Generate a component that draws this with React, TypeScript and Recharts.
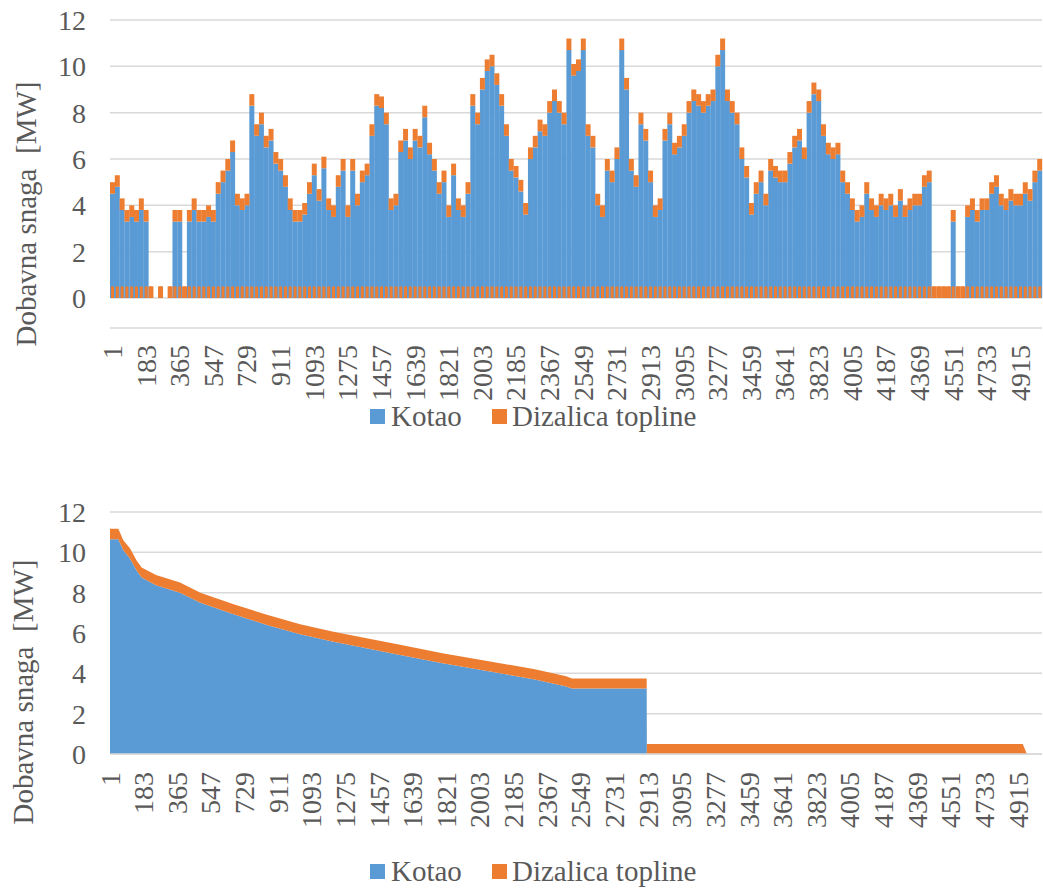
import React from 'react';
import { BarChart, Bar, XAxis, YAxis, CartesianGrid, AreaChart, Area } from 'recharts';

const SERIES_NAMES = ['Kotao', 'Dizalica topline'];
const COLORS = ['#5B9BD5', '#ED7D31'];
const Y_TITLE = 'Dobavna snaga  [MW]';
const Y_TICKS = [0, 2, 4, 6, 8, 10, 12];
const X_TICK_LABELS = [1, 183, 365, 547, 729, 911, 1093, 1275, 1457, 1639, 1821, 2003, 2185, 2367, 2549, 2731, 2913, 3095, 3277, 3459, 3641, 3823, 4005, 4187, 4369, 4551, 4733, 4915];

// top chart: one bar per 26-hour block (7 blocks between labelled ticks)
const BLOCK_HOURS = 26;
const KOTAO_BLOCKS = [
  4.5, 4.8, 3.8, 3.3, 3.5, 3.3, 3.8,
  3.3, 0, 0, 0, 0, 0, 3.3,
  3.3, 0, 3.3, 3.8, 3.3, 3.3, 3.5,
  3.3, 4.5, 5.0, 5.5, 6.3, 4.0, 3.8,
  4.0, 8.3, 7.0, 7.5, 6.5, 6.8, 5.8,
  5.5, 4.8, 3.8, 3.3, 3.3, 3.6, 4.5,
  5.3, 4.2, 5.6, 3.8, 3.5, 4.8, 5.5,
  3.5, 5.5, 4.0, 5.0, 5.3, 7.0, 8.3,
  8.2, 7.5, 3.8, 4.0, 6.3, 6.8, 6.0,
  6.8, 6.5, 7.8, 6.2, 5.5, 4.5, 5.0,
  3.5, 5.3, 3.8, 3.5, 4.5, 8.3, 7.5,
  9.0, 9.8, 10.0, 9.2, 8.3, 7.0, 5.5,
  5.2, 4.6, 3.6, 6.0, 6.5, 7.2, 7.0,
  8.0, 8.5, 8.0, 7.5, 10.7, 9.6, 9.8,
  10.7, 7.0, 6.5, 4.0, 3.5, 5.5, 5.0,
  6.0, 10.7, 9.0, 5.5, 4.8, 7.5, 6.8,
  5.0, 3.5, 3.8, 6.8, 7.5, 6.2, 6.5,
  7.0, 8.0, 8.5, 8.3, 8.0, 8.3, 8.5,
  10.0, 10.7, 8.5, 8.0, 7.5, 6.0, 5.2,
  3.6, 4.5, 5.0, 4.0, 5.5, 5.2, 5.0,
  5.0, 5.8, 6.5, 6.8, 6.0, 8.0, 8.8,
  8.5, 7.0, 6.2, 6.0, 6.2, 5.0, 4.5,
  3.8, 3.3, 3.5, 4.5, 3.8, 3.5, 4.0,
  3.8, 4.0, 3.5, 4.2, 3.5, 3.8, 4.0,
  4.0, 4.8, 5.0, 0, 0, 0, 0,
  3.3, 0, 0, 3.5, 3.8, 3.3, 3.8,
  3.8, 4.5, 4.8, 4.0, 3.8, 4.2, 4.0,
  4.0, 4.5, 4.2, 5.0, 5.5,
];
const DIZALICA_BLOCKS = [
  0.5, 0.5, 0.5, 0.5, 0.5, 0.5, 0.5,
  0.5, 0.5, 0, 0.5, 0, 0.5, 0.5,
  0.5, 0.5, 0.5, 0.5, 0.5, 0.5, 0.5,
  0.5, 0.5, 0.5, 0.5, 0.5, 0.5, 0.5,
  0.5, 0.5, 0.5, 0.5, 0.5, 0.5, 0.5,
  0.5, 0.5, 0.5, 0.5, 0.5, 0.5, 0.5,
  0.5, 0.5, 0.5, 0.5, 0.5, 0.5, 0.5,
  0.5, 0.5, 0.5, 0.5, 0.5, 0.5, 0.5,
  0.5, 0.5, 0.5, 0.5, 0.5, 0.5, 0.5,
  0.5, 0.5, 0.5, 0.5, 0.5, 0.5, 0.5,
  0.5, 0.5, 0.5, 0.5, 0.5, 0.5, 0.5,
  0.5, 0.5, 0.5, 0.5, 0.5, 0.5, 0.5,
  0.5, 0.5, 0.5, 0.5, 0.5, 0.5, 0.5,
  0.5, 0.5, 0.5, 0.5, 0.5, 0.5, 0.5,
  0.5, 0.5, 0.5, 0.5, 0.5, 0.5, 0.5,
  0.5, 0.5, 0.5, 0.5, 0.5, 0.5, 0.5,
  0.5, 0.5, 0.5, 0.5, 0.5, 0.5, 0.5,
  0.5, 0.5, 0.5, 0.5, 0.5, 0.5, 0.5,
  0.5, 0.5, 0.5, 0.5, 0.5, 0.5, 0.5,
  0.5, 0.5, 0.5, 0.5, 0.5, 0.5, 0.5,
  0.5, 0.5, 0.5, 0.5, 0.5, 0.5, 0.5,
  0.5, 0.5, 0.5, 0.5, 0.5, 0.5, 0.5,
  0.5, 0.5, 0.5, 0.5, 0.5, 0.5, 0.5,
  0.5, 0.5, 0.5, 0.5, 0.5, 0.5, 0.5,
  0.5, 0.5, 0.5, 0.5, 0.5, 0.5, 0.5,
  0.5, 0.5, 0.5, 0.5, 0.5, 0.5, 0.5,
  0.5, 0.5, 0.5, 0.5, 0.5, 0.5, 0.5,
  0.5, 0.5, 0.5, 0.5, 0.5,
];

// bottom chart: sorted (duration) curve
const DURATION_HOURS = [1, 46, 73, 109, 145, 172, 250, 380, 490, 670, 850, 1030, 1210, 1355, 1550, 1800, 2050, 2300, 2470, 2500, 2905, 2906, 4940, 4962];
const DURATION_KOTAO = [10.65, 10.65, 10.1, 9.7, 9.1, 8.75, 8.37, 8.0, 7.5, 6.93, 6.4, 5.94, 5.56, 5.3, 4.95, 4.5, 4.1, 3.7, 3.35, 3.25, 3.25, 0, 0, 0];
const DURATION_DIZALICA = [0.52, 0.52, 0.5, 0.5, 0.5, 0.5, 0.5, 0.5, 0.5, 0.5, 0.5, 0.5, 0.5, 0.5, 0.5, 0.5, 0.5, 0.5, 0.5, 0.5, 0.5, 0.5, 0.5, 0];

const blockData = KOTAO_BLOCKS.map((k, i) => ({
  hour: 1 + i * BLOCK_HOURS,
  kotao: k,
  dizalica: DIZALICA_BLOCKS[i],
}));
const durationData = DURATION_HOURS.map((h, i) => ({
  hour: h,
  kotao: DURATION_KOTAO[i],
  dizalica: DURATION_DIZALICA[i],
}));

const FONT = "'Liberation Serif', 'Times New Roman', Times, 'DejaVu Serif', serif";
const TEXT = '#595959';
const GRID = '#d9d9d9';

const XTick = (props: any) => {
  const { x, y, payload, gap } = props;
  return (
    <text
      transform={`translate(${x},${y + gap}) rotate(-90)`}
      textAnchor="end"
      dominantBaseline="central"
      style={{ fontSize: 28, fontFamily: FONT, fill: TEXT }}
    >
      {payload.value}
    </text>
  );
};

const yTickStyle = { fontSize: 28, fontFamily: FONT, fill: TEXT, style: { fontFamily: FONT } };

const LegendRow = ({ y }: { y: number }) => (
  <g>
    <rect x={370} y={y - 8} width={15} height={15} fill={COLORS[0]} />
    <text x={391} y={y + 9} style={{ fontSize: 29, fontFamily: FONT, fill: TEXT }}>{SERIES_NAMES[0]}</text>
    <rect x={492} y={y - 8} width={15} height={15} fill={COLORS[1]} />
    <text x={512} y={y + 9} style={{ fontSize: 29, fontFamily: FONT, fill: TEXT }}>{SERIES_NAMES[1]}</text>
  </g>
);

const YTitle = ({ cx, cy }: { cx: number; cy: number }) => (
  <text
    x={cx}
    y={cy}
    transform={`rotate(-90 ${cx} ${cy})`}
    textAnchor="middle"
    dominantBaseline="central"
    style={{ whiteSpace: 'pre', fontSize: 29, fontFamily: FONT, fill: TEXT }}
  >
    {Y_TITLE}
  </text>
);

export default function App() {
  return (
    <div style={{ position: 'absolute', left: 0, top: 0, width: 1043, height: 888, background: '#fff', overflow: 'hidden', fontFamily: FONT }}>
      <div style={{ position: 'absolute', left: 0, top: 0 }}>
        <BarChart
          width={1043}
          height={440}
          data={blockData}
          margin={{ top: 20, right: 1, bottom: 0, left: 0 }}
          barCategoryGap={0}
          barGap={0}
        >
          <CartesianGrid vertical={false} stroke={GRID} strokeWidth={1.5} />
          <XAxis
            xAxisId="main"
            dataKey="hour"
            ticks={X_TICK_LABELS}
            interval={0}
            height={142}
            tickSize={0}
            tickMargin={0}
            tickLine={false}
            axisLine={{ stroke: GRID, strokeWidth: 1.5 }}
            tick={(p: any) => <XTick {...p} gap={17} />}
          />
          <XAxis xAxisId="base" dataKey="hour" hide />
          <YAxis
            domain={[0, 12]}
            ticks={Y_TICKS}
            interval={0}
            width={110}
            tickSize={0}
            tickMargin={24}
            axisLine={false}
            tickLine={false}
            tick={yTickStyle}
          />
          <Bar xAxisId="main" dataKey="kotao" name={SERIES_NAMES[0]} stackId="s" fill={COLORS[0]} isAnimationActive={false} />
          <Bar xAxisId="main" dataKey="dizalica" name={SERIES_NAMES[1]} stackId="s" fill={COLORS[1]} isAnimationActive={false} />
          <Bar xAxisId="base" dataKey="dizalica" name={SERIES_NAMES[1]} legendType="none" barSize={3} fill={COLORS[1]} isAnimationActive={false} />
        </BarChart>
      </div>
      <div style={{ position: 'absolute', left: 0, top: 440 }}>
        <AreaChart
          width={1043}
          height={448}
          data={durationData}
          margin={{ top: 72, right: 1, bottom: 0, left: 0 }}
        >
          <CartesianGrid vertical={false} stroke={GRID} strokeWidth={1.5} />
          <XAxis
            type="number"
            dataKey="hour"
            domain={[1, 5044]}
            allowDataOverflow
            ticks={X_TICK_LABELS}
            interval={0}
            height={134}
            tickSize={0}
            tickMargin={0}
            tickLine={false}
            axisLine={{ stroke: GRID, strokeWidth: 1.5 }}
            tick={(p: any) => <XTick {...p} gap={18} />}
          />
          <YAxis
            domain={[0, 12]}
            ticks={Y_TICKS}
            interval={0}
            width={110}
            tickSize={0}
            tickMargin={24}
            axisLine={false}
            tickLine={false}
            tick={yTickStyle}
          />
          <Area type="linear" dataKey="kotao" name={SERIES_NAMES[0]} stackId="a" stroke="none" fill={COLORS[0]} fillOpacity={1} isAnimationActive={false} dot={false} activeDot={false} />
          <Area type="linear" dataKey="dizalica" name={SERIES_NAMES[1]} stackId="a" stroke="none" fill={COLORS[1]} fillOpacity={1} isAnimationActive={false} dot={false} activeDot={false} />
        </AreaChart>
      </div>
      <svg width={1043} height={888} style={{ position: 'absolute', left: 0, top: 0, pointerEvents: 'none' }}>
        <YTitle cx={26} cy={214} />
        <YTitle cx={23} cy={692} />
        <LegendRow y={417} />
        <LegendRow y={872} />
      </svg>
    </div>
  );
}
